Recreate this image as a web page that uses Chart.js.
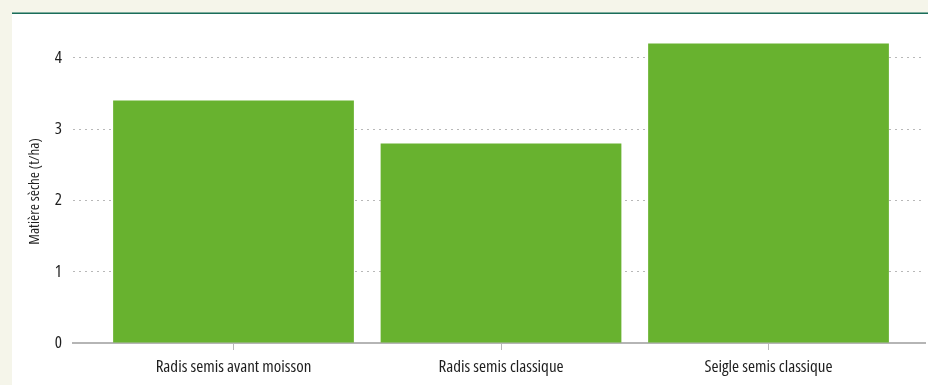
<!DOCTYPE html>
<html>
<head>
<meta charset="utf-8">
<script src="https://cdn.jsdelivr.net/npm/chart.js@4.4.1/dist/chart.umd.min.js"></script>
<style>
  html, body { margin: 0; padding: 0; }
  body { width: 928px; height: 385px; background: #f5f5ea; position: relative; overflow: hidden; }
  #topline { position: absolute; left: 12px; top: 12px; width: 916px; height: 1px; background: #7fae9d; }
  #topline2 { position: absolute; left: 12px; top: 13px; width: 916px; height: 1px; background: #1b6d5a; }
  #panel { position: absolute; left: 12px; top: 14px; width: 916px; height: 371px; background: #ffffff; }
  canvas { display: block; }
</style>
</head>
<body>
<div id="topline"></div>
<div id="topline2"></div>
<div id="panel"><canvas id="c" width="916" height="371"></canvas></div>
<script>
const categories = ["Radis semis avant moisson", "Radis semis classique", "Seigle semis classique"];
const values = [3.4, 2.8, 4.2];
const yTicks = [0, 1, 2, 3, 4];
const yTitle = "Matière sèche (t/ha)";

const FONT = "'Open Sans', sans-serif";

const condensePlugin = {
  id: 'condense',
  beforeDraw: (chart) => { chart.ctx.fontStretch = 'condensed'; },
  afterDraw: (chart) => { chart.ctx.fontStretch = 'condensed'; }
};

new Chart(document.getElementById('c'), {
  type: 'bar',
  plugins: [condensePlugin],
  data: {
    datasets: [{
      data: values.map((v, i) => ({ x: i, y: v })),
      backgroundColor: '#68b22f',
      borderWidth: 0,
      categoryPercentage: 0.9,
      barPercentage: 1.0
    }]
  },
  options: {
    responsive: false,
    animation: false,
    events: [],
    layout: { padding: { top: 26, right: 3, left: 0, bottom: 0 } },
    plugins: { legend: { display: false }, tooltip: { enabled: false } },
    scales: {
      x: {
        type: 'linear',
        offset: false,
        min: -0.6,
        max: 2.585,
        afterBuildTicks: (s) => { s.ticks = categories.map((c, i) => ({ value: i })); },
        afterFit: (s) => { s.height = 42; },
        ticks: {
          autoSkip: false,
          maxRotation: 0,
          padding: 7,
          color: '#1e1e1e',
          font: { family: FONT, size: 17, weight: '500 condensed' },
          callback: (v) => categories[v] !== undefined ? categories[v] : ''
        },
        grid: { offset: false, drawOnChartArea: false, drawTicks: true, tickLength: 7, tickColor: '#b8b8b8', tickWidth: 1 },
        border: { display: true, color: '#b5b5b5', width: 2 }
      },
      y: {
        min: 0,
        max: 4.25,
        afterBuildTicks: (s) => { s.ticks = yTicks.map(v => ({ value: v })); },
        afterFit: (s) => { s.width = 61; },
        ticks: {
          padding: 11,
          color: '#1e1e1e',
          font: { family: FONT, size: 17, weight: '500 condensed' }
        },
        grid: {
          drawTicks: false,
          color: (ctx) => (ctx.tick && ctx.tick.value === 0) ? 'rgba(0,0,0,0)' : '#b8b8b8',
          lineWidth: 1
        },
        border: { display: false, dash: [2, 4] },
        title: {
          display: true,
          text: yTitle,
          color: '#1e1e1e',
          font: { family: FONT, size: 15, weight: '500 condensed' },
          padding: { top: 14, bottom: 0 }
        }
      }
    }
  }
});
</script>
</body>
</html>
